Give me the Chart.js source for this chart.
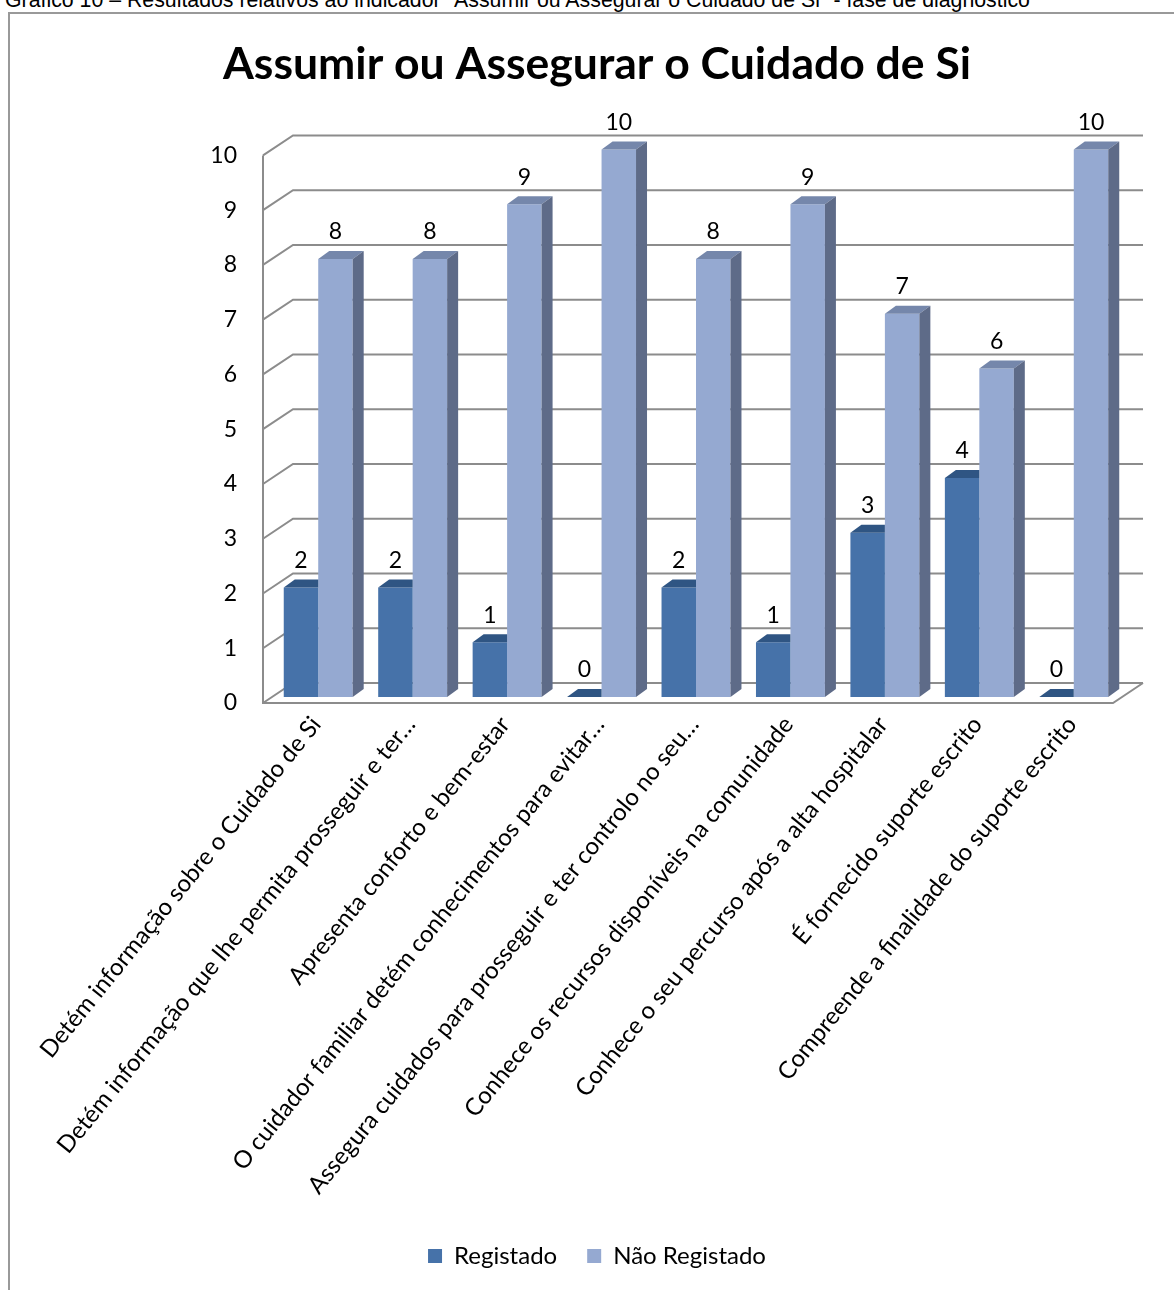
<!DOCTYPE html>
<html>
<head>
<meta charset="utf-8">
<script src="https://cdn.jsdelivr.net/npm/chart.js@4.4.0/dist/chart.umd.min.js"></script>
<style>
  body { margin: 0; background: #fff; overflow: hidden; }
  #caption { position: absolute; left: 5px; top: -12px; font: 21.3px "Liberation Sans", Arial, sans-serif; line-height: 24px; white-space: nowrap; color: #000; }
  #frame { position: absolute; left: 8px; top: 12px; width: 1300px; height: 1400px; border: 2px solid #999; }
  #chart { position: absolute; left: 0; top: 0; }
</style>
</head>
<body>
<div id="caption">Gráfico 10 – Resultados relativos ao indicador "Assumir ou Assegurar o Cuidado de Si" - fase de diagnóstico</div>
<div id="frame"></div>
<canvas id="chart" width="1174" height="1290"></canvas>
<script>
const categories = [
    "Detém informação sobre o Cuidado de Si",
    "Detém informação que lhe permita prosseguir e ter…",
    "Apresenta conforto e bem-estar",
    "O cuidador familiar detém conhecimentos para evitar…",
    "Assegura cuidados para prosseguir e ter controlo no seu…",
    "Conhece os recursos disponíveis na comunidade",
    "Conhece o seu percurso após a alta hospitalar",
    "É fornecido suporte escrito",
    "Compreende a finalidade do suporte escrito"
];
const registado = [2, 2, 1, 0, 2, 1, 3, 4, 0];
const naoRegistado = [8, 8, 9, 10, 8, 9, 7, 6, 10];
const yTicks = [0, 1, 2, 3, 4, 5, 6, 7, 8, 9, 10];

// colours of the 3d faces, per dataset
const faces = [
    { top: '#2f5583', side: null },
    { top: '#7587ab', side: '#5e6b88' }
];

const bar3d = {
    id: 'bar3d',
    beforeDatasetsDraw(chart) {
        const ctx = chart.ctx;
        const a = chart.chartArea;
        const y = chart.scales.y;
        ctx.save();
        ctx.strokeStyle = '#8c8c8c';
        ctx.lineWidth = 2;
        ctx.beginPath();
        y.ticks.forEach(function (t) {
            const py = y.getPixelForValue(t.value);
            ctx.moveTo(a.left, py);
            ctx.lineTo(a.left + 30, py - 20);
            ctx.lineTo(a.right + 30, py - 20);
        });
        const y0 = y.getPixelForValue(0);
        ctx.moveTo(a.left, y.getPixelForValue(10));
        ctx.lineTo(a.left, y0);
        ctx.lineTo(a.right, y0);
        ctx.lineTo(a.right + 30, y0 - 20);
        ctx.stroke();
        ctx.restore();
    },
    beforeDatasetDraw(chart) {
        chart.ctx.save();
        chart.ctx.translate(8, -6);
    },
    afterDatasetDraw(chart, args) {
        const ctx = chart.ctx;
        const col = faces[args.index];
        args.meta.data.forEach(function (bar) {
            const p = bar.getProps(['x', 'y', 'base', 'width'], true);
            const l = p.x - p.width / 2, r = p.x + p.width / 2;
            // the front (dark) bar is hidden on its right by the next bar
            const tr = col.side ? r + 11 : r;
            ctx.fillStyle = col.top;
            ctx.beginPath();
            ctx.moveTo(l, p.y);
            ctx.lineTo(l + 11, p.y - 8);
            ctx.lineTo(tr, p.y - 8);
            ctx.lineTo(r, p.y);
            ctx.closePath();
            ctx.fill();
            if (col.side) {
                ctx.fillStyle = col.side;
                ctx.beginPath();
                ctx.moveTo(r, p.y);
                ctx.lineTo(r + 11, p.y - 8);
                ctx.lineTo(r + 11, p.base - 8);
                ctx.lineTo(r, p.base);
                ctx.closePath();
                ctx.fill();
            }
        });
        ctx.restore();
    },
    afterDatasetsDraw(chart) {
        const ctx = chart.ctx;
        ctx.save();
        ctx.font = '23px Lato';
        ctx.fillStyle = '#000';
        ctx.textAlign = 'center';
        ctx.textBaseline = 'middle';
        chart.data.datasets.forEach(function (ds, i) {
            chart.getDatasetMeta(i).data.forEach(function (bar, j) {
                ctx.fillText(ds.data[j], bar.x + 8, bar.y - 33);
            });
        });
        ctx.restore();
    }
};

new Chart(document.getElementById('chart'), {
    type: 'bar',
    data: {
        labels: categories,
        datasets: [{
            label: 'Registado',
            data: registado,
            backgroundColor: '#4672a9',
            clip: false
        }, {
            label: 'Não Registado',
            data: naoRegistado,
            backgroundColor: '#95a9d1',
            clip: false
        }]
    },
    options: {
        responsive: false,
        animation: false,
        events: [],
        layout: { padding: { top: 18, right: 61, bottom: 12, left: 81 } },
        datasets: { bar: { categoryPercentage: 0.73, barPercentage: 1, borderWidth: 0 } },
        plugins: {
            title: {
                display: true,
                text: 'Assumir ou Assegurar o Cuidado de Si',
                color: '#000',
                font: { family: 'Lato', size: 44.5, weight: 'bold', lineHeight: 1.2 },
                padding: { top: 20, bottom: 64 }
            },
            legend: {
                position: 'bottom',
                labels: {
                    color: '#000',
                    font: { family: 'Lato', size: 24 },
                    boxWidth: 14,
                    boxHeight: 14,
                    padding: 30,
                    sort: (a, b) => a.datasetIndex - b.datasetIndex
                }
            },
            tooltip: { enabled: false }
        },
        scales: {
            x: {
                grid: { display: false, drawTicks: false },
                border: { display: false },
                ticks: {
                    color: '#000',
                    font: { family: 'Lato', size: 24 },
                    autoSkip: false,
                    minRotation: 51,
                    maxRotation: 51,
                    labelOffset: 6,
                    padding: 8
                },
                afterFit(scale) {
                    scale.height = 511;
                    scale.paddingLeft = 0;
                    scale.paddingRight = 0;
                }
            },
            y: {
                min: 0,
                max: 10,
                grid: { display: false, drawTicks: false },
                border: { display: false },
                afterBuildTicks(scale) {
                    scale.ticks = yTicks.map(v => ({ value: v }));
                },
                ticks: {
                    color: '#000',
                    font: { family: 'Lato', size: 23 },
                    padding: 26
                },
                afterFit(scale) {
                    scale.width = 182;
                }
            }
        }
    },
    plugins: [bar3d]
});
</script>
</body>
</html>
